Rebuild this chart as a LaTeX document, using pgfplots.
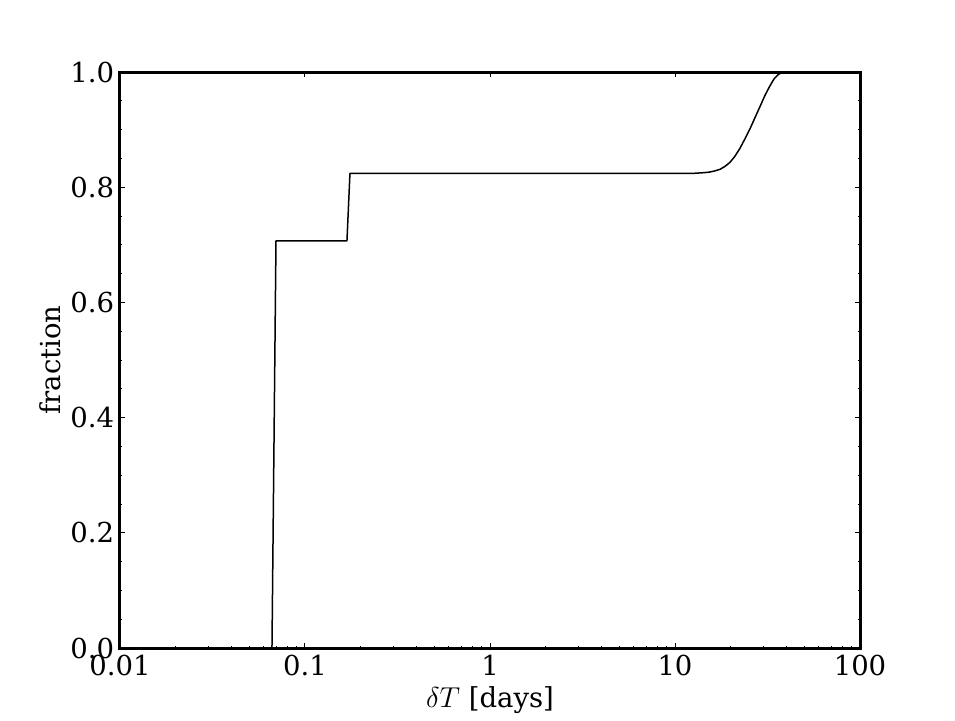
\documentclass[border=0pt]{standalone}
\usepackage{fontspec}
\setmainfont{DejaVu Serif}
\usepackage{pgfplots}
\pgfplotsset{compat=1.18}

\begin{document}
\begin{tikzpicture}
\useasboundingbox (-72pt,-43.2pt) rectangle (501pt,388.8pt);
\begin{axis}[
    at={(0,0)}, anchor=south west,
    scale only axis,
    width=444pt, height=345.6pt,
    xmode=log,
    xmin=0.01, xmax=100,
    ymin=0, ymax=1,
    xtick={0.01,0.1,1,10,100},
    xticklabels={0.01,0.1,1,10,100},
    ytick={0,0.2,0.4,0.6,0.8,1.0},
    yticklabels={0.0,0.2,0.4,0.6,0.8,1.0},
    minor y tick num=3,
    tick align=inside,
    tick pos=both,
    major tick length=2.8pt,
    minor tick length=1.4pt,
    every tick/.style={black, line width=0.6pt},
    axis line style={line width=1.8pt},
    ticklabel style={font=\fontsize{16.5}{18}\selectfont},
    xticklabel style={yshift=-1pt},
    label style={font=\fontsize{16.5}{18}\selectfont},
    xlabel={$\delta T$ [days]},
    ylabel={fraction},
    xlabel style={yshift=1pt},
    ylabel style={yshift=-1pt},
]
\addplot[black, line width=0.9pt, line join=round] coordinates {
    (0.01,0) (0.0663,0) (0.0697,0.707) (0.1686,0.707) (0.175,0.824)
    (10,0.824) (12.5,0.824) (14.0,0.825) (15.2,0.826) (16.3,0.828)
    (17.5,0.831) (18.6,0.836) (19.8,0.843) (21.0,0.853) (22.4,0.867)
    (23.8,0.883) (25.4,0.901) (27.0,0.920) (28.8,0.940) (30.6,0.959)
    (32.6,0.976) (34.3,0.988) (36.0,0.995) (37.6,0.999) (39.3,1.0) (100,1.0)
};
\end{axis}
\end{tikzpicture}
\end{document}
